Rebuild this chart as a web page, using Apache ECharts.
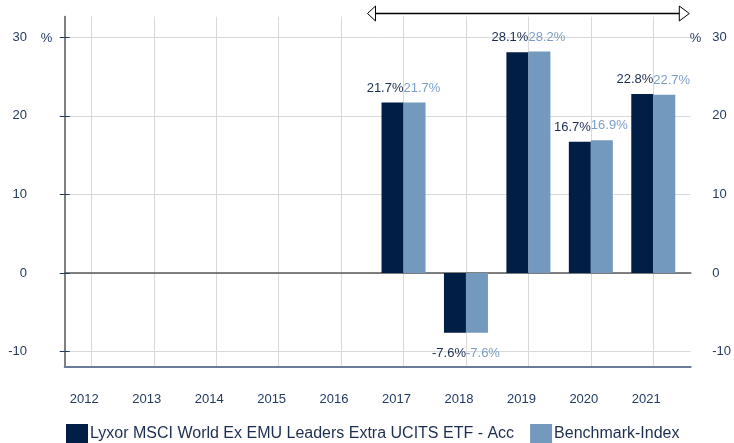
<!DOCTYPE html>
<html>
<head>
<meta charset="utf-8">
<script src="https://cdn.jsdelivr.net/npm/echarts@6/dist/echarts.min.js"></script>
<style>
	html, body { margin: 0; padding: 0; background: #fff; }
	#myCharts { width: 734px; height: 443px; }
</style>
</head>
<body>
<div id="myCharts"></div>
<script>
	// calendar years on the x axis
	const years = ['2012', '2013', '2014', '2015', '2016', '2017', '2018', '2019', '2020', '2021'];
	// yearly performance in %, null = no data yet
	const fundReturns = [null, null, null, null, null, 21.7, -7.6, 28.1, 16.7, 22.8];
	const benchReturns = [null, null, null, null, null, 21.7, -7.6, 28.2, 16.9, 22.7];
	const seriesNames = ['Lyxor MSCI World Ex EMU Leaders Extra UCITS ETF - Acc', 'Benchmark-Index'];
	const yTicks = [-10, 0, 10, 20, 30];
	const yMin = -11.86;
	const yMax = 32.62;

	const navy = '#233a63';
	const font = '"Liberation Sans", Arial, sans-serif';

	function barData(values) {
		return values.map(function (v) {
			if (v !== null && v < 0) {
				return { value: v, label: { distance: 14 } };
			}
			return v;
		});
	}

	function pctLabel(p) {
		return p.value == null ? '' : p.value.toFixed(1) + '%';
	}

	let mychart = echarts.init(document.getElementById('myCharts'));

	let option = {
		animation: false,
		textStyle: { fontFamily: font },
		grid: [
			// frame: axes lines and horizontal grid
			{ left: 64.7, right: 43.3, top: 16.7, bottom: 76.7 },
			// bars
			{ left: 60.1, right: 49.5, top: 16.7, bottom: 76.7 }
		],
		legend: {
			left: 66,
			top: 424,
			padding: 0,
			itemWidth: 22,
			itemHeight: 20,
			itemGap: 16,
			icon: 'rect',
			textStyle: { fontSize: 16, color: '#1c2e50', padding: [0, 0, 0, -3] },
			data: seriesNames
		},
		xAxis: [
			{
				gridIndex: 0, type: 'value', min: 0, max: 1, position: 'bottom',
				axisLine: { onZero: false, lineStyle: { color: '#6b7a99', width: 2 } },
				axisTick: { show: false }, axisLabel: { show: false }, splitLine: { show: false }
			},
			{
				gridIndex: 0, type: 'value', min: 0, max: 1, position: 'top',
				axisLine: { onZero: true, lineStyle: { color: '#5a5a5a', width: 1.5 } },
				axisTick: { show: false }, axisLabel: { show: false }, splitLine: { show: false }
			},
			{
				gridIndex: 1, type: 'category', data: years,
				axisLine: { show: false, onZero: false },
				axisTick: { show: false },
				axisLabel: { interval: 0, margin: 26.5, fontSize: 13, color: navy, padding: [0, 14, 0, 0] },
				splitLine: { show: true, interval: 0, alignWithLabel: true, lineStyle: { color: '#d9d9d9', width: 1 } }
			}
		],
		yAxis: [
			{
				gridIndex: 0, type: 'value', position: 'left', min: yMin, max: yMax,
				axisLine: { show: true, lineStyle: { color: '#2b2b2b', width: 1.5 } },
				axisTick: { show: true, customValues: yTicks, length: 5, lineStyle: { color: navy } },
				axisLabel: { customValues: yTicks, margin: 37.7, fontSize: 13, color: navy },
				splitLine: { show: true, lineStyle: { color: '#d9d9d9', width: 1 } }
			},
			{
				gridIndex: 0, type: 'value', position: 'right', min: yMin, max: yMax,
				axisLine: { show: true, lineStyle: { color: '#808080', width: 2 } },
				axisTick: { show: true, customValues: yTicks, length: 5, lineStyle: { color: navy } },
				axisLabel: { customValues: yTicks, margin: 21.5, fontSize: 13, color: navy },
				splitLine: { show: false }
			},
			{
				gridIndex: 1, type: 'value', min: yMin, max: yMax, show: false
			}
		],
		series: [
			{
				name: seriesNames[0],
				type: 'bar',
				xAxisIndex: 2,
				yAxisIndex: 2,
				barWidth: 22,
				barGap: '0%',
				itemStyle: { color: '#001e46' },
				label: {
					show: true, position: 'outside', distance: 8, align: 'right', offset: [11, 0],
					fontSize: 13, color: '#1c2e50', formatter: pctLabel
				},
				data: barData(fundReturns)
			},
			{
				name: seriesNames[1],
				type: 'bar',
				xAxisIndex: 2,
				yAxisIndex: 2,
				barWidth: 22,
				barGap: '0%',
				itemStyle: { color: '#7399be' },
				label: {
					show: true, position: 'outside', distance: 8, align: 'left', offset: [-11, 0],
					fontSize: 13, color: '#7b9fc7', formatter: pctLabel
				},
				data: barData(benchReturns)
			}
		]
	};

	mychart.setOption(option);

	// "%" unit marks and the period arrow, positioned through the axes
	let y30 = mychart.convertToPixel({ yAxisIndex: 0 }, 30);
	let yTop = mychart.convertToPixel({ yAxisIndex: 0 }, yMax);
	let xRight = mychart.convertToPixel({ xAxisIndex: 0 }, 1);
	let x2017 = mychart.convertToPixel({ xAxisIndex: 2 }, '2017');
	let ay = yTop - 3.2;
	let leftTip = x2017 - 36;
	let rightTip = xRight - 1.4;

	mychart.setOption({
		graphic: [
			{
				type: 'text', left: 40.7, top: y30 - 5.5,
				style: { text: '%', font: '13px ' + font, fill: navy }
			},
			{
				type: 'text', left: xRight - 1, top: y30 - 5.5, z: 1,
				style: { text: '%', font: '13px ' + font, fill: navy }
			},
			{
				type: 'line',
				shape: { x1: leftTip + 8, y1: ay, x2: rightTip - 10, y2: ay },
				style: { stroke: '#000', lineWidth: 1.5 }
			},
			{
				type: 'polygon',
				shape: { points: [[leftTip, ay], [leftTip + 8, ay - 7.5], [leftTip + 8, ay + 7.5]] },
				style: { fill: '#fff', stroke: '#000', lineWidth: 1 }
			},
			{
				type: 'polygon',
				shape: { points: [[rightTip, ay], [rightTip - 10, ay - 7.5], [rightTip - 10, ay + 7.5]] },
				style: { fill: '#fff', stroke: '#000', lineWidth: 1 }
			}
		]
	});

	window.onresize = mychart.resize;
</script>
</body>
</html>
